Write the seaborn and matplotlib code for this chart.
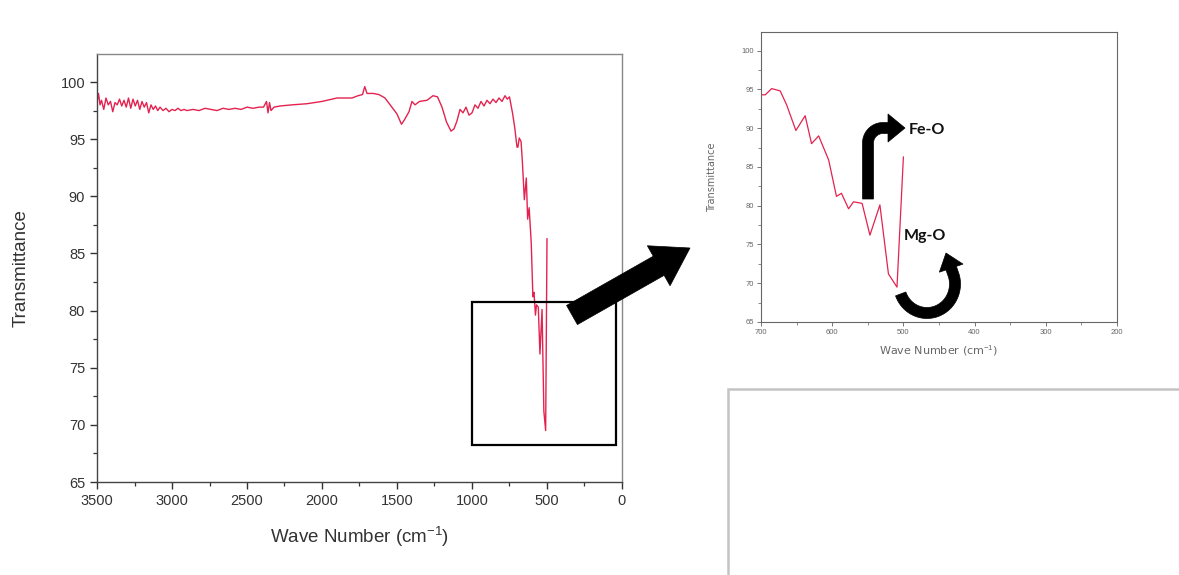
import numpy as np
import pandas as pd
import matplotlib
matplotlib.use("Agg")
import matplotlib.pyplot as plt
import seaborn as sns
from matplotlib.patches import Rectangle, Polygon
from matplotlib.ticker import MultipleLocator

# FTIR spectrum of the ferrite sample (wavenumber in cm^-1, transmittance in %)
wavenumber = [
    3500, 3490, 3480, 3470, 3455, 3440, 3425, 3410, 3395, 3380, 3365, 3350,
    3335, 3320, 3305, 3290, 3275, 3260, 3245, 3230, 3215, 3200, 3185, 3170,
    3155, 3140, 3125, 3110, 3095, 3080, 3060, 3040, 3020, 3000, 2980, 2960,
    2940, 2920, 2900, 2860, 2820, 2780, 2740, 2700, 2660, 2620, 2580, 2540,
    2500, 2460, 2420, 2390, 2370, 2360, 2350, 2340, 2320, 2280, 2200, 2100,
    2000, 1900, 1800, 1760, 1730, 1715, 1700, 1660, 1620, 1580, 1540, 1500,
    1470, 1450, 1420, 1400, 1380, 1350, 1300, 1260, 1230, 1200, 1170, 1140,
    1120, 1100, 1080, 1060, 1040, 1020, 1000, 980, 960, 940, 920, 900, 880,
    860, 840, 820, 800, 780, 765, 750, 730, 715, 700, 694, 685, 673, 664,
    651, 638, 629, 619, 605, 594, 587, 577, 570, 558, 547, 533, 521, 509, 500,
]
transmittance = [
    98.2, 99.0, 98.0, 98.4, 97.6, 98.6, 98.0, 98.3, 97.4, 98.2, 98.0, 98.5,
    97.9, 98.4, 97.8, 98.6, 97.7, 98.5, 97.9, 98.4, 97.6, 98.3, 97.8, 98.2,
    97.3, 98.0, 97.6, 97.9, 97.5, 97.8, 97.5, 97.7, 97.4, 97.6, 97.5, 97.7,
    97.5, 97.6, 97.5, 97.6, 97.5, 97.7, 97.6, 97.5, 97.7, 97.6, 97.7, 97.6,
    97.8, 97.7, 97.8, 97.8, 98.3, 97.3, 98.2, 97.5, 97.8, 97.9, 98.0, 98.1,
    98.3, 98.6, 98.6, 98.8, 98.9, 99.6, 99.0, 99.0, 98.9, 98.6, 97.9, 97.2,
    96.3, 96.7, 97.4, 98.3, 98.0, 98.3, 98.4, 98.8, 98.7, 97.8, 96.5, 95.7,
    95.9, 96.6, 97.6, 97.3, 97.8, 97.1, 97.3, 98.0, 97.7, 98.3, 97.9, 98.4, 98.1,
    98.5, 98.2, 98.6, 98.3, 98.8, 98.5, 98.7, 97.3, 96.0, 94.3, 94.3, 95.1, 94.8, 93.0,
    89.7, 91.6, 88.0, 89.0, 85.9, 81.2, 81.6, 79.6, 80.5, 80.3, 76.2, 80.1, 71.2, 69.5, 86.3,
]

main_xticks = [3500, 3000, 2500, 2000, 1500, 1000, 500, 0]
main_yticks = [65, 70, 75, 80, 85, 90, 95, 100]
inset_xticks = [700, 600, 500, 400, 300, 200]

# zoom window marked on the full spectrum
zoom_x = (1000, 40)
zoom_y = (68.2, 80.75)

spectrum = pd.DataFrame({"Wave Number": wavenumber, "Transmittance": transmittance})

sns.set_theme(style="ticks")
plt.rcParams["font.family"] = ["Liberation Sans", "DejaVu Sans"]
plt.rcParams["mathtext.fontset"] = "custom"
plt.rcParams["mathtext.rm"] = "Liberation Sans"
plt.rcParams["mathtext.it"] = "Liberation Sans:italic"

RED = "#e3234f"
W, H = 1179, 575
fig = plt.figure(figsize=(W / 100, H / 100), dpi=100)
fig.patch.set_facecolor("white")


def px_box(left, top, right, bottom):
    return [left / W, 1 - bottom / H, (right - left) / W, (bottom - top) / H]


# ---------------- full spectrum ----------------
ax = fig.add_axes(px_box(97, 54, 622, 482))
sns.lineplot(data=spectrum, x="Wave Number", y="Transmittance", ax=ax,
             color=RED, lw=1.0, sort=False, estimator=None)
ax.set_xlim(3500, 0)
ax.set_ylim(65, 102.45)
ax.set_xticks(main_xticks)
ax.set_yticks(main_yticks)
ax.xaxis.set_minor_locator(MultipleLocator(250))
ax.yaxis.set_minor_locator(MultipleLocator(2.5))
ax.tick_params(which="major", direction="out", length=5, width=1, colors="#333333",
               labelsize=10.5, labelcolor="#333333")
ax.tick_params(which="minor", direction="out", length=3, width=0.9, colors="#333333")
for side, sp in ax.spines.items():
    sp.set_linewidth(1.0)
    sp.set_color("#444444" if side in ("left", "bottom") else "#888888")
ax.set_xlabel("Wave Number (cm$^{-1}$)", fontsize=13.5, color="#333333", labelpad=12)
ax.set_ylabel("Transmittance", fontsize=13.5, color="#333333", labelpad=22)
ax.add_patch(Rectangle((zoom_x[1], zoom_y[0]), zoom_x[0] - zoom_x[1], zoom_y[1] - zoom_y[0],
                       fill=False, edgecolor="black", lw=1.6, zorder=5))

# ---------------- zoomed view ----------------
ax2 = fig.add_axes(px_box(761, 32, 1117, 322))
sns.lineplot(data=spectrum, x="Wave Number", y="Transmittance", ax=ax2,
             color=RED, lw=0.9, sort=False, estimator=None)
ax2.set_xlim(700, 200)
ax2.set_ylim(65, 102.4)
ax2.set_xticks(inset_xticks)
ax2.set_yticks(main_yticks)
ax2.xaxis.set_minor_locator(MultipleLocator(50))
ax2.yaxis.set_minor_locator(MultipleLocator(2.5))
ax2.tick_params(which="major", direction="out", length=3, width=0.7, colors="#777777",
                labelsize=5.5, labelcolor="#666666", pad=2)
ax2.tick_params(which="minor", direction="out", length=2, width=0.6, colors="#777777")
for sp in ax2.spines.values():
    sp.set_linewidth(0.8)
    sp.set_color("#666666")
ax2.set_xlabel("Wave Number (cm$^{-1}$)", fontsize=8, color="#666666",
               family=["DejaVu Sans"], labelpad=5)
ax2.set_ylabel("Transmittance", fontsize=7, color="#666666",
               family=["DejaVu Sans"], labelpad=18)
ax2.text(0.415, 0.662, "Fe-O", transform=ax2.transAxes, fontsize=11.5, fontweight="bold",
         family=["Lato", "DejaVu Sans"], color="#111111", va="center", ha="left")
ax2.text(0.40, 0.295, "Mg-O", transform=ax2.transAxes, fontsize=11.5, fontweight="bold",
         family=["Lato", "DejaVu Sans"], color="#111111", va="center", ha="left")


# ---------------- block arrows ----------------
def block_arrow(center_px, shaft_w, head_w, head_len, color="black"):
    """Filled arrow following a centreline given in figure pixels (y downwards)."""
    pts = np.asarray(center_px, dtype=float)
    seg = np.diff(pts, axis=0)
    cum = np.concatenate([[0], np.cumsum(np.hypot(seg[:, 0], seg[:, 1]))])
    base_len = cum[-1] - head_len
    s = np.linspace(0, base_len, 80)
    xs = np.interp(s, cum, pts[:, 0])
    ys = np.interp(s, cum, pts[:, 1])
    shaft = np.column_stack([xs, ys])
    d = np.gradient(shaft, axis=0)
    d /= np.hypot(d[:, 0], d[:, 1])[:, None]
    n = np.column_stack([-d[:, 1], d[:, 0]])
    left = shaft + n * shaft_w / 2
    right = shaft - n * shaft_w / 2
    tip = pts[-1]
    base = shaft[-1]
    hd = (tip - base) / np.hypot(*(tip - base))
    hn = np.array([-hd[1], hd[0]])
    head = [base + hn * head_w / 2, tip, base - hn * head_w / 2]
    poly = np.vstack([left, head, right[::-1]])
    poly_fig = np.column_stack([poly[:, 0] / W, 1 - poly[:, 1] / H])
    fig.patches.append(Polygon(poly_fig, closed=True, transform=fig.transFigure,
                               facecolor=color, edgecolor=color, lw=0.5, zorder=10))


# pointer from the zoom window to the zoomed view
block_arrow([(572, 315), (690, 248)], shaft_w=22, head_w=46, head_len=36)

# elbow arrow towards Fe-O
r = 15
theta = np.linspace(np.pi, 1.5 * np.pi, 20)
elbow = [(868, 199), (868, 143)]
elbow += list(zip(883 + r * np.cos(theta), 143 + r * np.sin(theta)))
elbow += [(905, 128)]
block_arrow(elbow, shaft_w=11, head_w=28, head_len=17)

# curved arrow towards Mg-O
phi = np.radians(np.linspace(160, -15, 60))
curve = list(zip(927 + 28 * np.cos(phi), 284 + 29 * np.sin(phi)))
curve += [(946, 253)]
block_arrow(curve, shaft_w=11, head_w=25, head_len=16)

# empty panel frame at the lower right
fig.patches.append(Rectangle((728 / W, -0.05), 1.0, 1 - 389 / H + 0.05,
                             transform=fig.transFigure, fill=False,
                             edgecolor="#c4c4c4", lw=1.8, zorder=1))

fig.savefig("out.png", dpi=100, facecolor="white")
